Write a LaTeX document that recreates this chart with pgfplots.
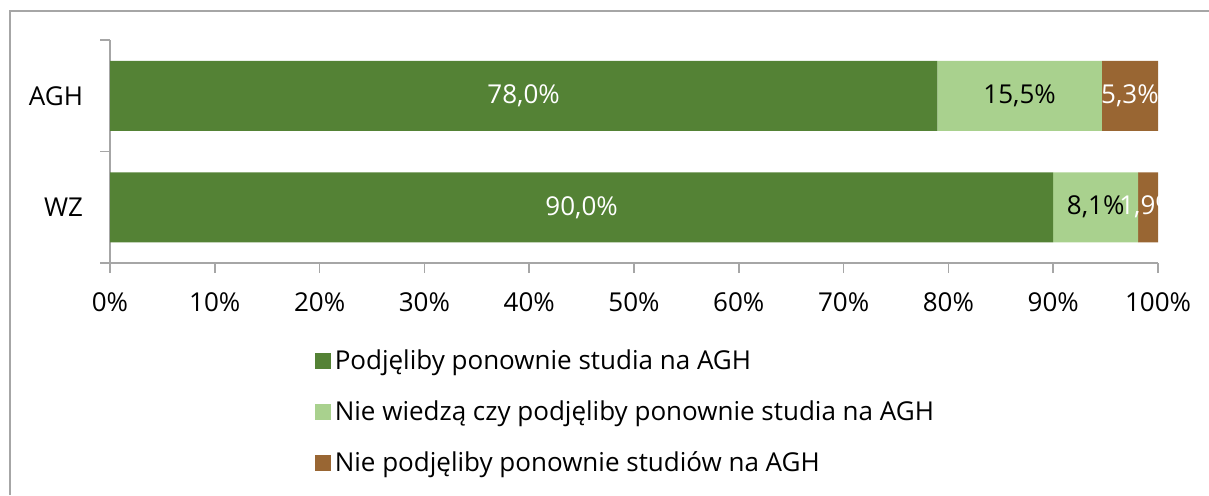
\documentclass[border=0pt]{standalone}
\usepackage{fontspec}
\setmainfont{Open Sans}
\usepackage{pgfplots}
\pgfplotsset{compat=1.18}
\definecolor{cA}{HTML}{548235}
\definecolor{cB}{HTML}{A9D18E}
\definecolor{cC}{HTML}{996633}
\definecolor{axgray}{HTML}{A6A6A6}
\begin{document}
\begin{tikzpicture}[x=0.5pt,y=0.5pt,font=\fontsize{13}{15.5}\selectfont]
\useasboundingbox (0,0) rectangle (1209,495);
\draw[axgray, line width=1pt] (10,0) -- (10,484) -- (1209,484);
\begin{axis}[
  at={(55pt,116pt)}, anchor=south west,
  scale only axis, width=524pt, height=111.5pt,
  xbar stacked, bar width=35pt,
  xmin=0, xmax=100, ymin=-0.5, ymax=1.5,
  axis lines*=left,
  axis line style={axgray, line width=0.75pt},
  tick style={axgray, line width=0.75pt},
  tick align=outside, major tick length=5pt,
  xtick={0,10,...,100},
  xticklabel={\pgfmathprintnumber{\tick}\%},
  xticklabel style={yshift=-6.5pt},
  ytick={-0.5,0.5,1.5}, yticklabels={,,},
  extra y ticks={0,1}, extra y tick labels={WZ,AGH},
  extra y tick style={major tick length=0pt, tick style={draw=none}, yticklabel style={xshift=-10pt}},
  /pgf/number format/assume math mode=true,
  legend cell align=left,
  legend style={draw=none, fill=none, inner sep=0pt, at={(0.195,-0.37)}, anchor=north west,
    row sep=10pt, /tikz/every even column/.append style={column sep=5pt}},
  legend image code/.code={\fill[#1] (0pt,-4pt) rectangle (8pt,4pt);},
]
\addplot[fill=cA, draw=none] coordinates {(90.0,0) (78.947,1)};
\addplot[fill=cB, draw=none] coordinates {(8.1,0) (15.688,1)};
\addplot[fill=cC, draw=none] coordinates {(1.9,0) (5.365,1)};
\legend{Podjęliby ponownie studia na AGH, Nie wiedzą czy podjęliby ponownie studia na AGH, Nie podjęliby ponownie studiów na AGH}
\end{axis}
\begin{axis}[
  at={(55pt,116pt)}, anchor=south west,
  scale only axis, width=524pt, height=111.5pt,
  xmin=0, xmax=100, ymin=-0.5, ymax=1.5,
  hide axis, clip=false,
  point meta=explicit symbolic,
  nodes near coords,
  every node near coord/.append style={anchor=center},
]
\addplot[only marks, mark=none, nodes near coords, every node near coord/.append style={text=white}] coordinates {(45.0,0) [90,0\%] (39.47,1) [78,0\%]};
\addplot[only marks, mark=none, nodes near coords, every node near coord/.append style={text=black}] coordinates {(94.05,0) [8,1\%] (86.79,1) [15,5\%]};
\addplot[only marks, mark=none, nodes near coords, every node near coord/.append style={text=white}] coordinates {(99.05,0) [1,9\%] (97.32,1) [5,3\%]};
\end{axis}
\end{tikzpicture}
\end{document}
